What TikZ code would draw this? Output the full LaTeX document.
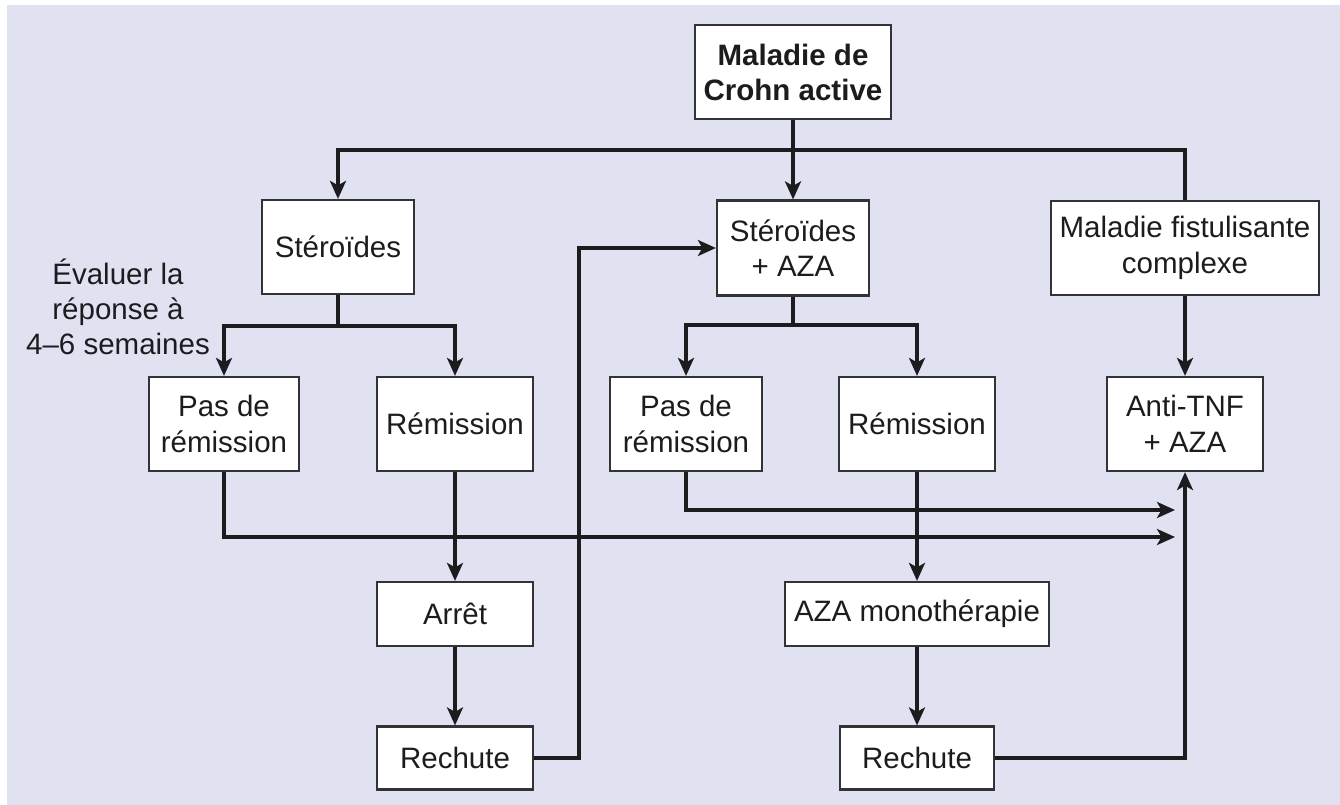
\documentclass[tikz,border=0pt]{standalone}
\usepackage{fontspec}
\setmainfont{Liberation Sans}
\usetikzlibrary{arrows.meta}
\definecolor{bgcol}{RGB}{224,225,241}
\definecolor{ink}{RGB}{28,28,30}
\definecolor{boxline}{RGB}{50,50,55}
\begin{document}
\begin{tikzpicture}[x=1pt,y=-1pt,
  box/.style={draw=boxline,line width=2.2pt,fill=white,inner sep=0pt,align=center,
    text=ink,font=\fontsize{29.5}{35.5}\selectfont},
  arr/.style={draw=ink,line width=3.2pt,-{Stealth[length=18pt,width=16pt,inset=4.5pt]}},
  conn/.style={draw=ink,line width=3.2pt}]
\useasboundingbox (0,0) rectangle (1340,805);
\fill[white] (0,0) rectangle (1340,805);
\fill[bgcol] (7,5) rectangle (1340,805);
% nodes
\node[box,minimum width=196pt,minimum height=94pt,font=\fontsize{29.5}{35}\selectfont\bfseries] (crohn) at (793,72) {Maladie de\\Crohn active};
\node[box,minimum width=152pt,minimum height=94pt] (ster) at (338,247) {Stéroïdes};
\node[box,minimum width=152pt,minimum height=95pt] (steraza) at (793,248) {Stéroïdes\\+ AZA};
\node[box,minimum width=268pt,minimum height=94pt] (fist) at (1185,248) {Maladie fistulisante\\complexe};
\node[box,minimum width=156pt,minimum height=94pt] (antitnf) at (1185,424) {Anti-TNF\\+ AZA};
\node[box,minimum width=150pt,minimum height=94pt] (pasL) at (224,424) {Pas de\\rémission};
\node[box,minimum width=156pt,minimum height=94pt] (remL) at (455,424) {Rémission};
\node[box,minimum width=152pt,minimum height=94pt] (pasM) at (686,424) {Pas de\\rémission};
\node[box,minimum width=156pt,minimum height=94pt] (remM) at (917,424) {Rémission};
\node[box,minimum width=156pt,minimum height=64pt] (arret) at (455,614) {Arrêt};
\node[box,minimum width=156pt,minimum height=63pt] (rechL) at (455,758) {Rechute};
\node[box,minimum width=264pt,minimum height=64pt] (azamono) at (917,614) {AZA monothérapie};
\node[box,minimum width=154pt,minimum height=63pt] (rechM) at (917,758) {Rechute};
\node[align=center,inner sep=0pt,text=ink,font=\fontsize{29.5}{35}\selectfont] (eval) at (118,307) {Évaluer la\\réponse à\\4–6 semaines};
% helper coordinates
\coordinate (hb) at (0,150);
\coordinate (lb) at (0,326);
\coordinate (mb) at (0,325);
\coordinate (e1) at (1175,537);
\coordinate (e2) at (1175,510);
\coordinate (lk) at (579,0);
% connectors
\draw[arr] (crohn) -- (steraza);
\draw[arr] (fist.north) -- (fist.north |- hb) -- (ster.north |- hb) -- (ster.north);
\draw[arr] (ster.south) -- (ster.south |- lb) -| (pasL.north);
\draw[arr] (ster.south |- lb) -| (remL.north);
\draw[arr] (steraza.south) -- (steraza.south |- mb) -| (pasM.north);
\draw[arr] (steraza.south |- mb) -| (remM.north);
\draw[arr] (fist) -- (antitnf);
\draw[arr] (pasL.south) |- (e1);
\draw[arr] (pasM.south) |- (e2);
\draw[arr] (remL) -- (arret);
\draw[arr] (arret) -- (rechL);
\draw[arr] (remM) -- (azamono);
\draw[arr] (azamono) -- (rechM);
\draw[arr] (rechL.east) -| (lk |- steraza.west) -- (steraza.west);
\draw[arr] (rechM.east) -| (antitnf.south);
\end{tikzpicture}
\end{document}
